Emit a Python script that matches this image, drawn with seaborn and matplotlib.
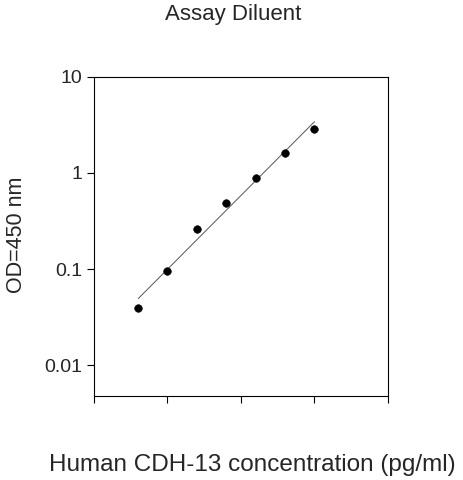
import numpy as np
import matplotlib
matplotlib.use("Agg")
import matplotlib.pyplot as plt
import seaborn as sns

sns.set_style("ticks")
plt.rcParams['font.family'] = ['Liberation Sans', 'DejaVu Sans']

conc = [4.0, 10, 25, 63, 160, 400, 1000]
od = [0.039, 0.095, 0.26, 0.49, 0.89, 1.62, 2.87]

fig = plt.figure(figsize=(4.63, 4.8), dpi=100)
ax = fig.add_axes([0.203, 0.175, 0.635, 0.665])
sns.scatterplot(x=conc, y=od, ax=ax, color='black', s=30, edgecolor='black', zorder=3)
lx = np.log10(conc); ly = np.log10(od)
k, b = np.polyfit(lx, ly, 1)
fx = np.array([lx[0], lx[-1]])
ax.plot(10**fx, 10**(k*fx+b), color='#555555', lw=0.7)
ax.set_xscale('log'); ax.set_yscale('log')
ax.set_xlim(1, 1e4); ax.set_ylim(10**-2.32, 10)
ax.set_xticks([1, 10, 100, 1000, 1e4]); ax.set_xticklabels([])
ax.set_yticks([0.01, 0.1, 1, 10]); ax.set_yticklabels(['0.01', '0.1', '1', '10'])
ax.minorticks_off()
ax.tick_params(labelsize=14, length=5, color='black', width=0.8)
for s in ax.spines.values():
    s.set_visible(True); s.set_color('black'); s.set_linewidth(0.8)
ax.set_ylabel('')
fig.text(0.035, 0.51, 'OD=450 nm', rotation=90, ha='center', va='center', fontsize=15.5)
fig.text(0.504, 0.969, 'Assay Diluent', ha='center', va='center', fontsize=16)
fig.text(0.545, 0.031, 'Human CDH-13 concentration (pg/ml)', ha='center', va='center', fontsize=17.5)
fig.savefig('out.png', dpi=100)
